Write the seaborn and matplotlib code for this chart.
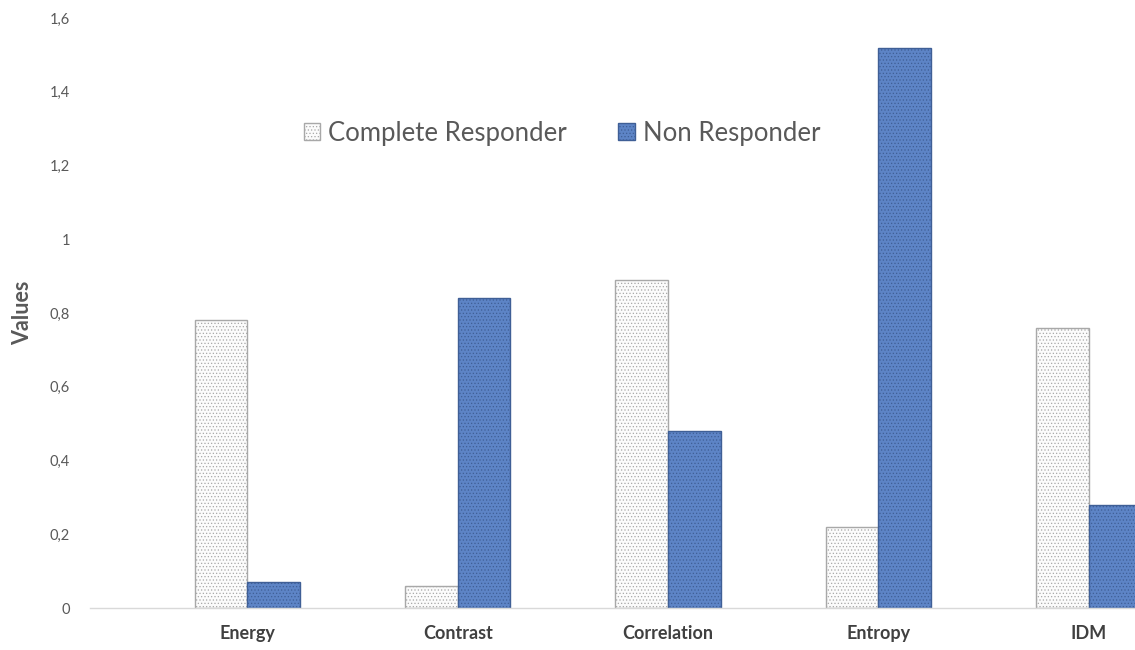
import matplotlib
matplotlib.use("Agg")
import matplotlib.pyplot as plt
import seaborn as sns
import pandas as pd
from matplotlib.patches import Patch
from matplotlib.ticker import FuncFormatter

categories = ["Energy", "Contrast", "Correlation", "Entropy", "IDM"]
complete_responder = [0.78, 0.06, 0.89, 0.22, 0.76]
non_responder = [0.07, 0.84, 0.48, 1.52, 0.28]
series_names = ["Complete Responder", "Non Responder"]
yticks = [0, 0.2, 0.4, 0.6, 0.8, 1.0, 1.2, 1.4, 1.6]

df = pd.DataFrame({
    "Feature": categories * 2,
    "Group": [series_names[0]] * len(categories) + [series_names[1]] * len(categories),
    "Value": complete_responder + non_responder,
})

sns.set_style("white")
plt.rcParams["font.family"] = ["Lato", "DejaVu Sans"]
plt.rcParams["hatch.linewidth"] = 0.5

fig = plt.figure(figsize=(11.35, 6.5), dpi=100)
ax = fig.add_axes([0.079, 0.0646, 0.921, 0.9077])

styles = {
    series_names[0]: dict(face="#FBFBFB", edge="#A8A8A8"),
    series_names[1]: dict(face="#5D84C6", edge="#3F5F96"),
}

sns.barplot(data=df, x="Feature", y="Value", hue="Group", order=categories,
            hue_order=series_names, width=0.5, gap=0, dodge=True,
            palette={k: v["face"] for k, v in styles.items()},
            legend=False, ax=ax, errorbar=None, saturation=1)

n = len(categories)
for i, patch in enumerate(ax.patches):
    name = series_names[i // n]
    patch.set_facecolor(styles[name]["face"])
    patch.set_edgecolor(styles[name]["edge"])
    patch.set_linewidth(1.0)
    patch.set_hatch(".....")

ax.set_xlim(-0.75, 4.22)
ax.set_ylim(0, 1.6)
ax.set_yticks(yticks)
ax.yaxis.set_major_formatter(FuncFormatter(
    lambda v, p: "0" if v == 0 else ("1" if abs(v - 1) < 1e-9 else f"{v:.1f}".replace(".", ","))))
ax.tick_params(axis="y", labelsize=10.5, labelcolor="#595959", length=0, pad=14)
ax.tick_params(axis="x", labelsize=13, labelcolor="#404040", length=0, pad=12)
for lbl in ax.get_xticklabels():
    lbl.set_fontweight("bold")

ax.set_xlabel("")
ax.set_ylabel("Values", fontsize=15.5, fontweight="bold", color="#595959", labelpad=12)

for s in ["top", "right", "left"]:
    ax.spines[s].set_visible(False)
ax.spines["bottom"].set_color("#D9D9D9")
ax.spines["bottom"].set_linewidth(1.0)

handles = [Patch(facecolor=styles[nm]["face"], edgecolor=styles[nm]["edge"], hatch=".....",
                 label=nm) for nm in series_names]
fig.legend(handles=handles, loc="center", bbox_to_anchor=(0.495, 0.795), ncol=2,
           frameon=False, fontsize=18.5, labelcolor="#595959", handlelength=0.65,
           handleheight=0.65, handletextpad=0.3, columnspacing=2.0)

fig.savefig("out.png", dpi=100)
